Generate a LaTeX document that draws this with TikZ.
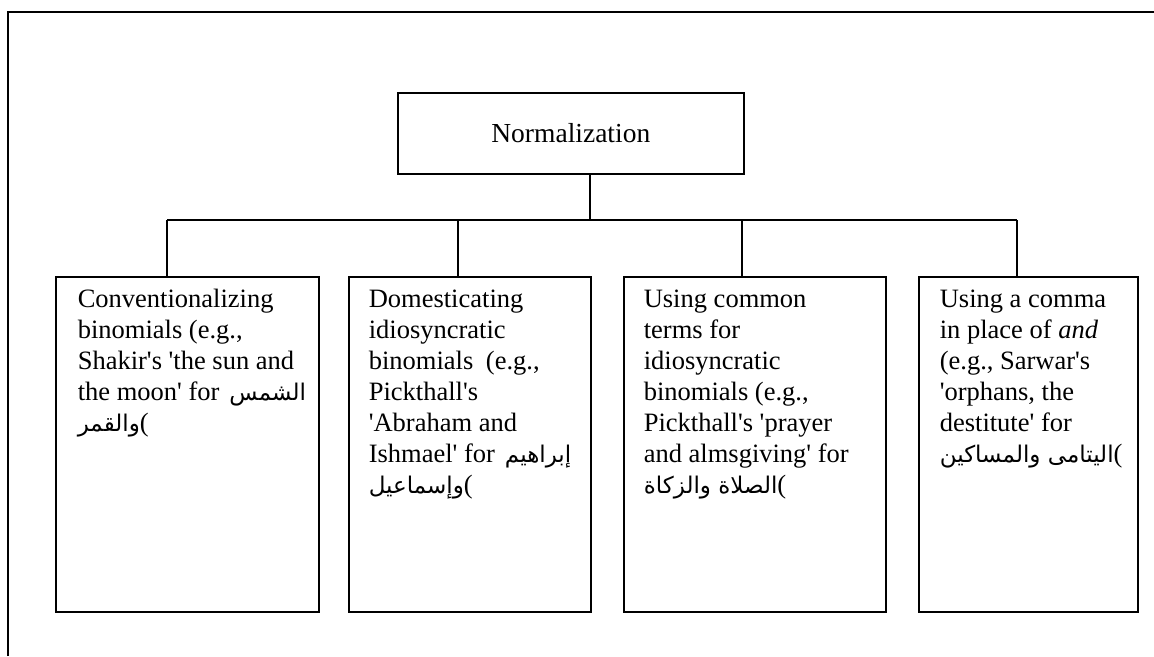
\documentclass[tikz,border=0pt]{standalone}
\usepackage{fontspec}
\setmainfont{Liberation Serif}[Ligatures=TeXOff]
\newfontfamily\arabicfont[Script=Arabic]{DejaVu Sans}
\TeXXeTstate=1
\newcommand\arbtxt[1]{{\arabicfont\fontsize{23}{31}\selectfont\beginR #1\endR}}
\begin{document}
\begin{tikzpicture}[x=1pt,y=-1pt,line width=1.6pt,
  box/.style={draw, inner sep=0pt, anchor=north west},
  txt/.style={anchor=north west, inner sep=0pt, align=left, font=\fontsize{26.5}{31}\selectfont}]
\useasboundingbox (0,0) rectangle (1154,656);
% outer frame (only top and left edges visible)
\draw[line width=1.8pt] (8,656) -- (8,12) -- (1154,12);
% top node
\node[box, minimum width=346pt, minimum height=81pt, font=\fontsize{27.5}{31}\selectfont] (top) at (397,92) {Normalization};
% lower boxes
\node[box, minimum width=263pt, minimum height=335pt] (b1) at (55,276) {};
\node[box, minimum width=242pt, minimum height=335pt] (b2) at (348,276) {};
\node[box, minimum width=262pt, minimum height=335pt] (b3) at (623,276) {};
\node[box, minimum width=219pt, minimum height=335pt] (b4) at (918,276) {};
% connectors
\coordinate (jt) at (590,220);
\coordinate (d1) at (167,220);
\coordinate (d2) at (458,220);
\coordinate (d3) at (742,220);
\coordinate (d4) at (1017,220);
\draw (jt |- top.south) -- (jt);
\draw (d1) -- (d4);
\draw (d1) -- (d1 |- b1.north);
\draw (d2) -- (d2 |- b2.north);
\draw (d3) -- (d3 |- b3.north);
\draw (d4) -- (d4 |- b4.north);
% texts
\node[txt] (t1) at (77,287) {\rule{0pt}{20pt}Conventionalizing\\
binomials (e.g.,\\
Shakir's 'the sun and\\
the moon' for\hspace{10pt}\arbtxt{الشمس}\\
\arbtxt{والقمر}(};
\node[txt] (t2) at (368,287) {\rule{0pt}{20pt}Domesticating\\
idiosyncratic\\
binomials\hspace{6pt} (e.g.,\\
Pickthall's\\
'Abraham and\\
Ishmael' for\hspace{10pt}\arbtxt{إبراهيم}\\
\arbtxt{وإسماعيل}(};
\node[txt] (t3) at (643,287) {\rule{0pt}{20pt}Using common\\
terms for\\
idiosyncratic\\
binomials (e.g.,\\
Pickthall's 'prayer\\
and almsgiving' for\\
\arbtxt{الصلاة والزكاة}(};
\node[txt] (t4) at (939,287) {\rule{0pt}{20pt}Using a comma\\
in place of \textit{and}\\
(e.g., Sarwar's\\
'orphans, the\\
destitute' for\\
\arbtxt{اليتامى والمساكين}(};
\end{tikzpicture}
\end{document}
